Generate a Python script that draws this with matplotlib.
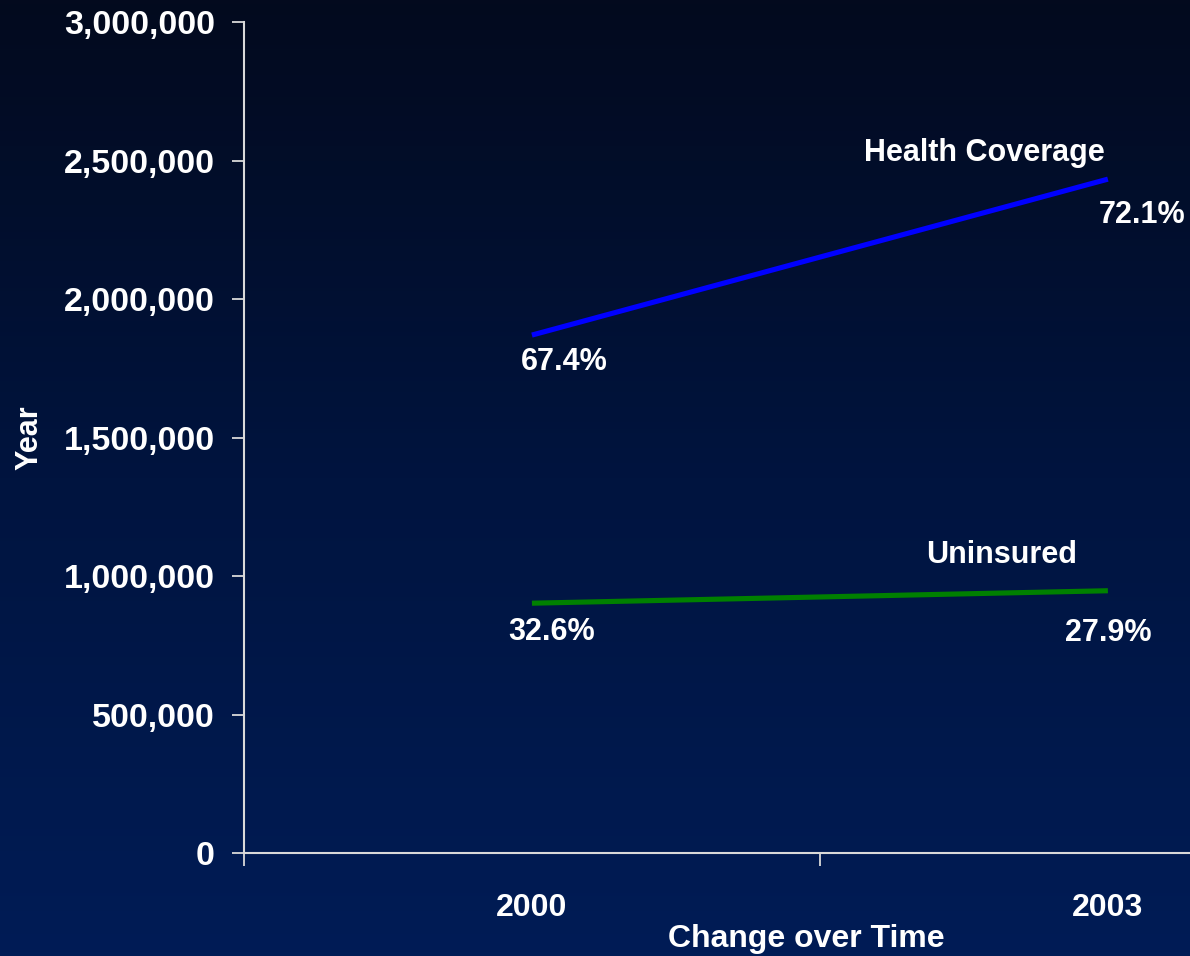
import numpy as np
import matplotlib
matplotlib.use("Agg")
import matplotlib.pyplot as plt
from matplotlib.colors import LinearSegmentedColormap
from matplotlib.ticker import FuncFormatter

# Data
years = ["2000", "2003"]
health_coverage = [1870000, 2433000]
uninsured = [902000, 947000]
health_pct = ["67.4%", "72.1%"]
uninsured_pct = ["32.6%", "27.9%"]

plt.rcParams['font.family'] = ['Liberation Sans', 'DejaVu Sans']
plt.rcParams['font.weight'] = 'bold'

fig = plt.figure(figsize=(11.9, 9.56), dpi=100)

# background gradient
bg = fig.add_axes([0, 0, 1, 1], zorder=-10)
bg.axis('off')
cmap = LinearSegmentedColormap.from_list("bg", ["#030a1e", "#00143f", "#001c56"])
grad = np.linspace(0, 1, 256).reshape(-1, 1)
bg.imshow(grad, aspect='auto', cmap=cmap, extent=[0, 1, 0, 1], origin='upper')

ax = fig.add_axes([0.205, 0.1077, 0.968, 0.8692])
ax.patch.set_alpha(0)

x = np.arange(len(years))
ax.plot(x, health_coverage, color='#0000ff', lw=3.7, solid_capstyle='butt')
ax.plot(x, uninsured, color='#008000', lw=3.7, solid_capstyle='butt')

ax.set_xlim(-0.5, 1.5)
ax.set_ylim(0, 3000000)
ax.set_yticks(np.arange(0, 3000001, 500000))
ax.yaxis.set_major_formatter(FuncFormatter(lambda v, p: f"{int(v):,}"))

ax.set_xticks([-0.5, 0.5, 1.5])
ax.set_xticklabels([])
ax.set_xticks(x, minor=True)
ax.set_xticklabels(years, minor=True)
ax.tick_params(axis='x', which='minor', length=0, pad=29, labelsize=23, colors='white')
ax.tick_params(axis='x', which='major', length=9, width=1.3, color='#d9d9d9')
ax.tick_params(axis='y', length=9, width=1.3, color='#d9d9d9', pad=12,
               labelsize=24.5, labelcolor='white')

for s in ['top', 'right']:
    ax.spines[s].set_visible(False)
for s in ['left', 'bottom']:
    ax.spines[s].set_color('#d9d9d9')
    ax.spines[s].set_linewidth(1.5)

ax.set_xlabel("Change over Time", color='white', fontsize=23, fontweight='bold', va='center')
ax.xaxis.set_label_coords(0.488, -0.104)
ax.set_ylabel("Year", color='white', fontsize=22, fontweight='bold', va='center')
ax.yaxis.set_label_coords(-0.186, 0.5)

lab = dict(color='white', fontsize=22, fontweight='bold', ha='center', va='center',
           textcoords='offset pixels')
ax.annotate(health_pct[0], (x[0], health_coverage[0]), xytext=(32, -27), **lab)
ax.annotate(health_pct[1], (x[1], health_coverage[1]), xytext=(34, -36), **lab)
ax.annotate("Health Coverage", (x[1], health_coverage[1]), xytext=(-124, 26), **lab)
ax.annotate(uninsured_pct[0], (x[0], uninsured[0]), xytext=(20, -29), **lab)
ax.annotate(uninsured_pct[1], (x[1], uninsured[1]), xytext=(0, -42), **lab)
ax.annotate("Uninsured", (x[1], uninsured[1]), xytext=(-106, 36), **lab)

fig.savefig("out.png", dpi=100)
